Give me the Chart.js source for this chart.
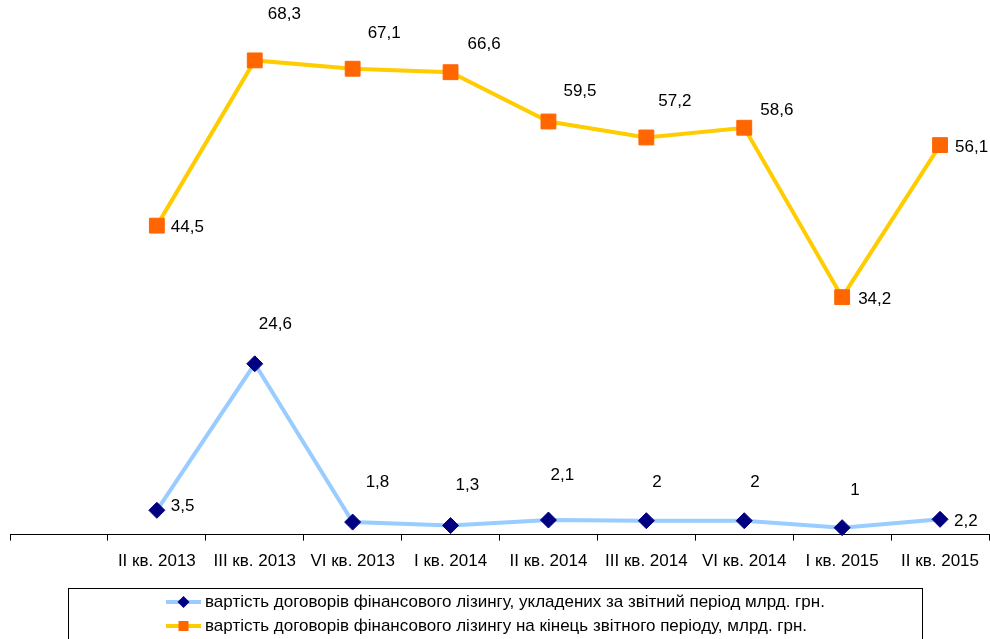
<!DOCTYPE html>
<html>
<head>
<meta charset="utf-8">
<script src="https://cdn.jsdelivr.net/npm/chart.js@4"></script>
<style>
  body { margin: 0; background: #fff; }
  #wrap { width: 990px; height: 639px; }
</style>
</head>
<body>
<div id="wrap"><canvas id="leasingChart"></canvas></div>
<script>
// data
var quarters = ['', 'II кв. 2013', 'III кв. 2013', 'VI кв. 2013', 'I кв. 2014', 'II кв. 2014', 'III кв. 2014', 'VI кв. 2014', 'I кв. 2015', 'II кв. 2015'];
var concludedValues = [null, 3.5, 24.6, 1.8, 1.3, 2.1, 2, 2, 1, 2.2];
var endOfPeriodValues = [null, 44.5, 68.3, 67.1, 66.6, 59.5, 57.2, 58.6, 34.2, 56.1];
var concludedLabel = 'вартість договорів фінансового лізингу, укладених за звітний період млрд. грн.';
var endOfPeriodLabel = 'вартість договорів фінансового лізингу на кінець звітного періоду, млрд. грн.';

// label offsets from the point (dx to text start, dy to text middle)
var concludedOffsets = [null, [14, -4], [4, -39], [13, -40], [5, -40], [2, -45], [6, -38], [6, -38], [8, -37], [14, 2]];
var endOfPeriodOffsets = [null, [14, 2], [13, -46], [15, -35], [17, -28], [15, -30], [12, -36], [16, -17], [16, 2], [15, 2]];

var FONT_FAMILY = '"Liberation Sans", Arial, sans-serif';
var FONT = '17px ' + FONT_FAMILY;

function fmt(v) {
    return String(v).replace('.', ',');
}

var valueLabels = {
    id: 'valueLabels',
    afterDatasetsDraw: function(chart) {
        var ctx = chart.ctx;
        var offsets = [concludedOffsets, endOfPeriodOffsets];
        ctx.save();
        ctx.font = FONT;
        ctx.fillStyle = '#000';
        ctx.textAlign = 'left';
        ctx.textBaseline = 'middle';
        chart.data.datasets.forEach(function(ds, di) {
            var meta = chart.getDatasetMeta(di);
            meta.data.forEach(function(pt, i) {
                var v = ds.data[i];
                if (v === null) return;
                var off = offsets[di][i];
                ctx.fillText(fmt(v), pt.x + off[0], pt.y + off[1]);
            });
        });
        ctx.restore();
    }
};

function drawMarker(ctx, style, color, x, y, r) {
    ctx.fillStyle = color;
    ctx.beginPath();
    if (style === 'rectRot') {
        ctx.moveTo(x, y - r);
        ctx.lineTo(x + r, y);
        ctx.lineTo(x, y + r);
        ctx.lineTo(x - r, y);
    } else {
        ctx.rect(x - r, y - r, 2 * r, 2 * r);
    }
    ctx.closePath();
    ctx.fill();
}

var boxLegend = {
    id: 'boxLegend',
    afterDraw: function(chart) {
        var ctx = chart.ctx;
        ctx.save();
        ctx.strokeStyle = '#000';
        ctx.lineWidth = 1;
        ctx.strokeRect(68.5, 588.5, 854, 60);
        ctx.font = FONT;
        ctx.textAlign = 'left';
        ctx.textBaseline = 'middle';
        var rows = [602, 626];
        var sizes = [6, 5];
        chart.data.datasets.forEach(function(ds, di) {
            var y = rows[di];
            ctx.strokeStyle = ds.borderColor;
            ctx.lineWidth = 4;
            ctx.beginPath();
            ctx.moveTo(166, y);
            ctx.lineTo(201, y);
            ctx.stroke();
            drawMarker(ctx, ds.pointStyle, ds.pointBackgroundColor, 183.5, y, sizes[di]);
            ctx.fillStyle = '#000';
            ctx.fillText(ds.label, 205, y);
        });
        ctx.restore();
    }
};

var ctx = document.getElementById('leasingChart').getContext('2d');
var leasingChart = new Chart(ctx, {
    type: 'line',
    data: {
        labels: quarters,
        datasets: [{
            label: concludedLabel,
            data: concludedValues,
            borderColor: '#99CCFF',
            borderWidth: 4,
            pointStyle: 'rectRot',
            pointRadius: 8,
            pointBackgroundColor: '#000080',
            pointBorderColor: '#000080',
            pointBorderWidth: 1,
            clip: false
        }, {
            label: endOfPeriodLabel,
            data: endOfPeriodValues,
            borderColor: '#FFCC00',
            borderWidth: 4,
            pointStyle: 'rect',
            pointRadius: 10.5,
            pointBackgroundColor: '#FF6600',
            pointBorderColor: '#FF6600',
            pointBorderWidth: 1,
            clip: false
        }]
    },
    options: {
        responsive: true,
        maintainAspectRatio: false,
        animation: false,
        layout: {
            autoPadding: false,
            padding: { left: 10, right: 1, top: 0, bottom: 56 }
        },
        plugins: {
            legend: { display: false },
            tooltip: { enabled: false }
        },
        scales: {
            x: {
                offset: true,
                grid: {
                    offset: true,
                    drawOnChartArea: false,
                    drawTicks: true,
                    tickLength: 6,
                    tickColor: '#000'
                },
                border: { display: true, color: '#000', width: 1 },
                ticks: {
                    color: '#000',
                    font: { family: FONT_FAMILY, size: 17 },
                    padding: 11,
                    maxRotation: 0,
                    autoSkip: false
                },
                afterFit: function(scale) {
                    scale.paddingLeft = 0;
                    scale.paddingRight = 0;
                }
            },
            y: {
                display: false,
                min: 0,
                max: 77
            }
        }
    },
    plugins: [valueLabels, boxLegend]
});
</script>
</body>
</html>
